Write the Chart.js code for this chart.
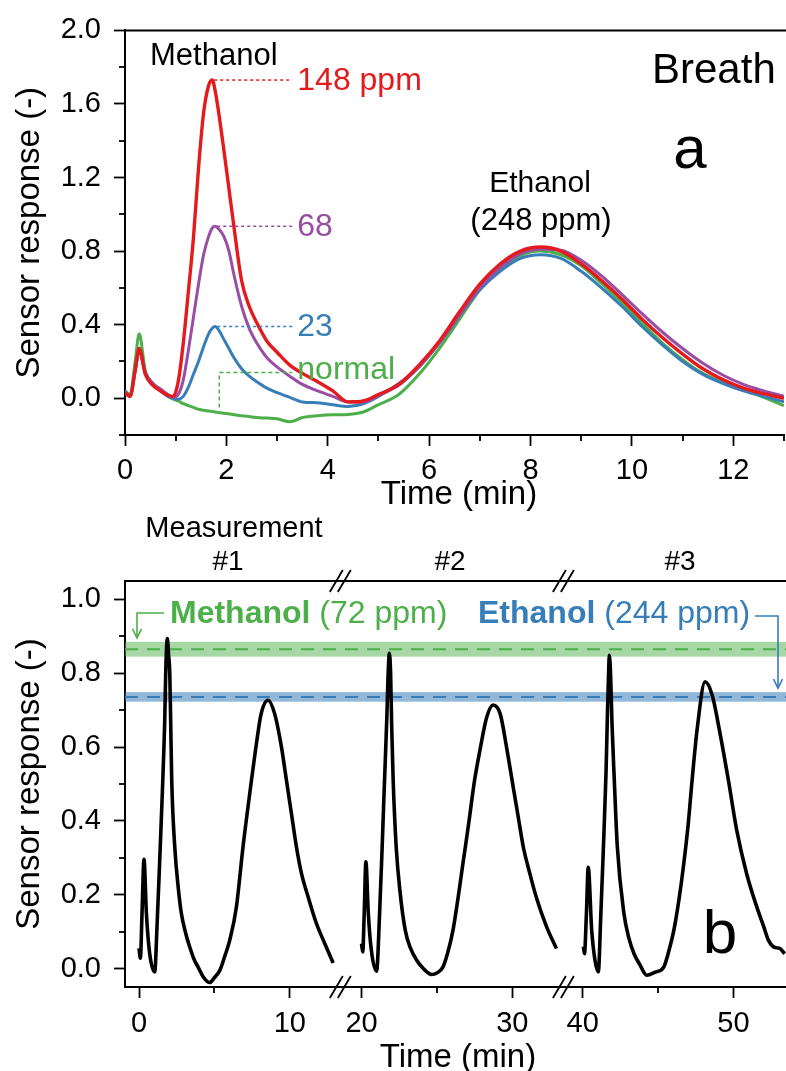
<!DOCTYPE html>
<html>
<head>
<meta charset="utf-8">
<title>Sensor response – breath</title>
<script src="https://cdn.jsdelivr.net/npm/chart.js@4.4.1/dist/chart.umd.min.js"></script>
<style>
  html, body { margin: 0; padding: 0; background: #fff; overflow: hidden; }
  canvas { position: absolute; left: 0; top: 0; }
</style>
</head>
<body>
<canvas id="breath" width="786" height="1071"></canvas>
<canvas id="repeat" width="786" height="1071"></canvas>
<script>
// ---------- panel a: breath with spiked methanol ----------
const timeA = [0, 0.1, 0.2, 0.28, 0.4, 0.55, 0.7, 0.85, 0.95,
  1.05, 1.15, 1.25, 1.35, 1.45, 1.55, 1.65, 1.72, 1.78, 1.85, 1.95,
  2.05, 2.15, 2.3, 2.45, 2.6, 2.8, 3.0, 3.25, 3.5, 3.8,
  4.1, 4.4, 4.7, 5.0, 5.4, 5.8, 6.2, 6.6, 7.0, 7.4,
  7.8, 8.2, 8.6, 9.0, 9.4, 9.8, 10.2, 10.6, 11.0, 11.4,
  11.8, 12.2, 12.6, 13.0];

const ppm148 = [0.03, 0.01, 0.15, 0.27, 0.13, 0.07, 0.04, 0.015, 0.01,
  0.09, 0.30, 0.58, 0.87, 1.25, 1.55, 1.70, 1.73, 1.67, 1.55, 1.35,
  1.14, 0.93, 0.64, 0.50, 0.41, 0.31, 0.25, 0.18, 0.135, 0.09,
  0.04, -0.02, -0.015, 0.02, 0.075, 0.18, 0.31, 0.47, 0.62, 0.73,
  0.80, 0.822, 0.80, 0.73, 0.64, 0.54, 0.43, 0.33, 0.24, 0.16,
  0.10, 0.055, 0.025, 0.0];

const ppm68 = [0.03, 0.01, 0.15, 0.26, 0.14, 0.08, 0.05, 0.02, 0.005,
  0.02, 0.10, 0.26, 0.44, 0.62, 0.78, 0.88, 0.925, 0.935, 0.92, 0.88,
  0.80, 0.67, 0.50, 0.38, 0.30, 0.22, 0.17, 0.12, 0.075, 0.04,
  0.01, -0.02, -0.02, 0.015, 0.07, 0.17, 0.30, 0.45, 0.60, 0.71,
  0.785, 0.81, 0.805, 0.75, 0.665, 0.565, 0.46, 0.36, 0.27, 0.19,
  0.125, 0.075, 0.04, 0.01];

const ppm23 = [0.04, 0.01, 0.15, 0.26, 0.14, 0.08, 0.04, 0.01, 0.0,
  -0.005, 0.01, 0.06, 0.13, 0.20, 0.28, 0.35, 0.38, 0.39, 0.37, 0.32,
  0.27, 0.22, 0.16, 0.12, 0.09, 0.055, 0.03, 0.005, -0.02, -0.025,
  -0.035, -0.045, -0.03, 0.01, 0.08, 0.17, 0.30, 0.45, 0.59, 0.69,
  0.76, 0.78, 0.76, 0.69, 0.60, 0.50, 0.39, 0.29, 0.20, 0.13,
  0.08, 0.04, 0.01, -0.02];

const normal = [0.04, 0.02, 0.20, 0.35, 0.15, 0.08, 0.04, 0.01, -0.005,
  -0.015, -0.03, -0.04, -0.05, -0.06, -0.065, -0.07, -0.072, -0.075, -0.078, -0.082,
  -0.085, -0.09, -0.095, -0.10, -0.105, -0.108, -0.112, -0.128, -0.105, -0.095,
  -0.09, -0.088, -0.075, -0.035, 0.02, 0.13, 0.27, 0.43, 0.59, 0.70,
  0.775, 0.80, 0.78, 0.72, 0.625, 0.52, 0.41, 0.30, 0.21, 0.135,
  0.085, 0.045, 0.005, -0.04];

const xTicksA = [0, 2, 4, 6, 8, 10, 12];
const xMinorA = [1, 3, 5, 7, 9, 11, 13];
const yTicksA = [0, 0.4, 0.8, 1.2, 1.6, 2.0];
const yMinorA = [-0.2, 0.2, 0.6, 1.0, 1.4, 1.8];

// ---------- panel b: three repeated measurements ----------
const meas1T = [0, 0.09, 0.2, 0.33, 0.49, 0.71, 1.04, 1.2, 1.37, 1.55,
  1.71, 1.77, 1.88, 1.96, 2.04, 2.1, 2.17, 2.37, 2.6, 2.81,
  3.1, 3.36, 3.65, 3.92, 4.3, 4.69, 5.0, 5.36, 5.7, 6.02,
  6.46, 6.9, 7.46, 7.79, 8.1, 8.56, 9.0, 9.45, 9.78, 10.11,
  10.44, 10.78, 11.22, 11.77, 12.32, 12.88];
const meas1R = [0.055, 0.028, 0.15, 0.296, 0.149, 0.04, -0.009, 0.12, 0.29, 0.48,
  0.68, 0.80, 0.894, 0.85, 0.80, 0.67, 0.51, 0.33, 0.22, 0.149,
  0.095, 0.059, 0.025, 0.004, -0.025, -0.038, -0.025, -0.005, 0.035, 0.077,
  0.167, 0.33, 0.51, 0.61, 0.69, 0.727, 0.69, 0.60, 0.51, 0.42,
  0.33, 0.257, 0.194, 0.122, 0.068, 0.015];

const meas2T = [20.0, 20.08, 20.18, 20.29, 20.45, 20.65, 21.0, 21.2, 21.37, 21.5,
  21.68, 21.75, 21.85, 21.93, 22.0, 22.1, 22.3, 22.55, 22.9, 23.25,
  23.65, 24.1, 24.65, 25.0, 25.4, 25.7, 26.07, 26.4, 26.73, 27.1,
  27.5, 27.85, 28.3, 28.73, 29.2, 29.62, 30.07, 30.4, 30.73, 31.15,
  31.62, 32.28, 32.93];
const meas2R = [0.068, 0.045, 0.15, 0.289, 0.15, 0.05, -0.007, 0.15, 0.33, 0.48,
  0.68, 0.78, 0.854, 0.80, 0.66, 0.51, 0.33, 0.21, 0.104, 0.055,
  0.023, 0.0, -0.016, -0.012, 0.004, 0.04, 0.104, 0.19, 0.285, 0.39,
  0.51, 0.59, 0.68, 0.714, 0.69, 0.60, 0.49, 0.41, 0.33, 0.26,
  0.19, 0.113, 0.054];

const meas3T = [40.05, 40.12, 40.25, 40.37, 40.6, 40.82, 41.04, 41.2, 41.37, 41.55,
  41.65, 41.72, 41.77, 41.85, 41.95, 42.1, 42.3, 42.74, 43.05, 43.41,
  43.8, 44.25, 44.8, 45.38, 45.7, 46.05, 46.4, 46.71, 47.0, 47.26,
  47.6, 48.12, 48.6, 49.1, 49.67, 50.22, 50.88, 51.55, 52.0, 52.32,
  52.65, 52.9, 53.1, 53.4];
const meas3R = [0.06, 0.04, 0.15, 0.274, 0.104, 0.022, -0.009, 0.14, 0.32, 0.53,
  0.70, 0.80, 0.849, 0.80, 0.66, 0.51, 0.33, 0.149, 0.085, 0.04,
  0.01, -0.018, -0.01, 0.004, 0.045, 0.104, 0.19, 0.285, 0.39, 0.51,
  0.65, 0.777, 0.74, 0.64, 0.51, 0.375, 0.257, 0.167, 0.115, 0.077,
  0.059, 0.056, 0.054, 0.04];

// calibration levels (mean and spread) for the two reference gases
const methanolLevel = 0.865, methanolSpread = 0.02;
const ethanolLevel = 0.736, ethanolSpread = 0.013;

const yTicksB = [0, 0.2, 0.4, 0.6, 0.8, 1.0];
const yMinorB = [0.1, 0.3, 0.5, 0.7, 0.9];

const FONT = "'Liberation Sans', Arial, sans-serif";
const RED = '#e41a1c', PURPLE = '#984ea3', BLUE = '#377eb8', GREEN = '#4daf4a';

Chart.defaults.font.family = FONT;
Chart.defaults.color = '#000';

function write(ctx, str, x, y, size, o = {}) {
  ctx.save();
  ctx.font = (o.bold ? 'bold ' : '') + size + 'px ' + FONT;
  ctx.fillStyle = o.color || '#000';
  ctx.textAlign = o.align || 'left';
  ctx.textBaseline = o.baseline || 'alphabetic';
  ctx.translate(x, y);
  if (o.rotate) ctx.rotate(o.rotate);
  ctx.fillText(str, 0, 0);
  const w = ctx.measureText(str).width;
  ctx.restore();
  return w;
}

function stroke(ctx, pts, color, width, dash) {
  ctx.save();
  ctx.strokeStyle = color;
  ctx.lineWidth = width;
  ctx.setLineDash(dash || []);
  ctx.beginPath();
  pts.forEach((p, i) => i ? ctx.lineTo(p[0], p[1]) : ctx.moveTo(p[0], p[1]));
  ctx.stroke();
  ctx.restore();
}

function arrowHead(ctx, x, y, color) {
  stroke(ctx, [[x - 4.5, y - 9], [x, y], [x + 4.5, y - 9]], color, 1.6);
}

// short minor tick marks on the outside of each axis
function minorTicks(marks) {
  return {
    id: 'minorTicks',
    afterDraw(chart) {
      const ctx = chart.ctx;
      ctx.save();
      ctx.strokeStyle = '#000';
      ctx.lineWidth = 1.8;
      for (const id in marks) {
        const s = chart.scales[id];
        marks[id].forEach(v => {
          const p = Math.round(s.getPixelForValue(v));
          ctx.beginPath();
          if (s.isHorizontal()) { ctx.moveTo(p, s.top); ctx.lineTo(p, s.top + 6); }
          else { ctx.moveTo(s.right, p); ctx.lineTo(s.right - 6, p); }
          ctx.stroke();
        });
      }
      ctx.restore();
    }
  };
}

function axisOpts(extra) {
  return Object.assign({
    type: 'linear',
    border: { display: true, color: '#000', width: 2 },
    grid: { display: true, drawOnChartArea: false, drawTicks: true, tickLength: 11, tickWidth: 1.8, tickColor: '#000' },
  }, extra);
}

// ---------------- chart a ----------------
const seriesA = [
  { label: '148 ppm', values: ppm148, color: RED, width: 3.4 },
  { label: '68', values: ppm68, color: PURPLE, width: 3 },
  { label: '23', values: ppm23, color: BLUE, width: 3 },
  { label: 'normal', values: normal, color: GREEN, width: 3 }
];

const panelA = {
  id: 'panelA',
  afterDatasetsDraw(chart) {
    const ctx = chart.ctx, xs = chart.scales.x, ys = chart.scales.y, area = chart.chartArea;
    stroke(ctx, [[area.left, area.top], [786, area.top]], '#000', 2);

    // leader lines from each methanol peak to its label
    const labelT = 3.3;
    seriesA.slice(0, 3).forEach(s => {
      let k = 0;
      for (let i = 0; i < 26; i++) if (s.values[i] > s.values[k]) k = i;
      const y = ys.getPixelForValue(s.values[k]);
      stroke(ctx, [[xs.getPixelForValue(timeA[k]) + 2, y], [xs.getPixelForValue(labelT), y]], s.color, 1.5, [3, 3]);
      write(ctx, s.label, xs.getPixelForValue(labelT) + 5, y + 1, 32, { color: s.color, baseline: 'middle' });
    });
    const yN = ys.getPixelForValue(0.14), xN = xs.getPixelForValue(1.86);
    stroke(ctx, [[xN, ys.getPixelForValue(-0.05)], [xN, yN], [xs.getPixelForValue(labelT), yN]], GREEN, 1.5, [4, 3]);
    write(ctx, 'normal', xs.getPixelForValue(labelT) + 5, yN - 2, 32, { color: GREEN, baseline: 'middle' });

    write(ctx, 'Methanol', 150, 65, 31);
    write(ctx, 'Breath', 652, 83, 42);
    write(ctx, 'a', 690, 168, 60, { align: 'center' });
    write(ctx, 'Ethanol', 540, 192, 30, { align: 'center' });
    write(ctx, '(248 ppm)', 541, 230, 31, { align: 'center' });

    write(ctx, 'Sensor response (-)', 39, (area.top + area.bottom) / 2, 33, { align: 'center', rotate: -Math.PI / 2 });
    write(ctx, 'Time (min)', 459, 504, 33, { align: 'center' });
  }
};

new Chart(document.getElementById('breath'), {
  type: 'line',
  data: {
    datasets: seriesA.map(s => ({
      label: s.label,
      data: timeA.map((t, i) => ({ x: t, y: s.values[i] })),
      borderColor: s.color,
      borderWidth: s.width,
      pointRadius: 0,
      cubicInterpolationMode: 'monotone',
      fill: false
    }))
  },
  options: {
    responsive: false,
    animation: false,
    layout: { padding: { top: 30, left: 0, right: 2, bottom: 1071 - 435 - 56 } },
    plugins: { legend: { display: false }, tooltip: { enabled: false } },
    scales: {
      x: axisOpts({
        min: 0, max: 13,
        afterBuildTicks: s => { s.ticks = xTicksA.map(v => ({ value: v })); },
        afterFit: s => { s.height = 56; },
        ticks: { font: { size: 29 }, padding: 8, maxRotation: 0, autoSkip: false, callback: v => String(v) }
      }),
      y: axisOpts({
        min: -0.2, max: 2.0,
        afterBuildTicks: s => { s.ticks = yTicksA.map(v => ({ value: v })); },
        afterFit: s => { s.width = 125; },
        ticks: { font: { size: 29 }, padding: 13, autoSkip: false, callback: v => v.toFixed(1) }
      })
    }
  },
  plugins: [minorTicks({ x: xMinorA, y: yMinorA }), panelA]
});

// ---------------- chart b ----------------
// broken time axis: one stacked x scale per measurement
const segments = [
  { id: 'x1', min: -0.93, max: 13.32, ticks: [0, 10], minor: [5], t: meas1T, r: meas1R },
  { id: 'x2', min: 18.56, max: 33.36, ticks: [20, 30], minor: [25], t: meas2T, r: meas2R },
  { id: 'x3', min: 38.69, max: 53.49, ticks: [40, 50], minor: [45], t: meas3T, r: meas3R }
];

const scalesB = {
  y: axisOpts({
    min: -0.05, max: 1.05,
    afterBuildTicks: s => { s.ticks = yTicksB.map(v => ({ value: v })); },
    afterFit: s => { s.width = 125; },
    ticks: { font: { size: 29 }, padding: 13, autoSkip: false, callback: v => v.toFixed(1) }
  })
};
const minorB = { y: yMinorB };
segments.forEach(seg => {
  scalesB[seg.id] = axisOpts({
    position: 'bottom',
    stack: 'time',
    stackWeight: seg.max - seg.min,
    min: seg.min, max: seg.max,
    afterBuildTicks: s => { s.ticks = seg.ticks.map(v => ({ value: v })); },
    afterFit: s => { s.height = 56; },
    ticks: { font: { size: 29 }, padding: 9, maxRotation: 0, autoSkip: false, callback: v => String(v) }
  });
  minorB[seg.id] = seg.minor;
});

const panelB = {
  id: 'panelB',
  beforeDatasetsDraw(chart) {
    const ctx = chart.ctx, ys = chart.scales.y, area = chart.chartArea;
    [[methanolLevel, methanolSpread, 'rgba(77,175,74,0.5)', GREEN],
     [ethanolLevel, ethanolSpread, 'rgba(55,126,184,0.55)', BLUE]].forEach(([lvl, sd, fill, col]) => {
      const top = ys.getPixelForValue(lvl + sd), bot = ys.getPixelForValue(lvl - sd);
      ctx.save();
      ctx.fillStyle = fill;
      ctx.fillRect(area.left, top, area.right - area.left, bot - top);
      ctx.restore();
      const y = ys.getPixelForValue(lvl);
      stroke(ctx, [[area.left, y], [area.right, y]], col, 2, [13, 9]);
    });
  },
  afterDatasetsDraw(chart) {
    const ctx = chart.ctx, ys = chart.scales.y, area = chart.chartArea;
    stroke(ctx, [[area.left, area.top], [786, area.top]], '#000', 2);

    // break marks on the top and bottom axes
    [chart.scales.x1.right, chart.scales.x2.right].forEach(bx => {
      [area.top, area.bottom].forEach(y => {
        stroke(ctx, [[bx - 10, y + 11], [bx + 3, y - 11]], '#000', 1.8);
        stroke(ctx, [[bx - 2, y + 11], [bx + 11, y - 11]], '#000', 1.8);
      });
    });

    write(ctx, 'Measurement', 234, 537, 29, { align: 'center' });
    write(ctx, '#1', 228, 570, 28, { align: 'center' });
    write(ctx, '#2', 450, 570, 28, { align: 'center' });
    write(ctx, '#3', 680, 570, 28, { align: 'center' });

    // reference labels with arrows pointing at the bands
    const mx = 170, tyM = 623;
    const wm = write(ctx, 'Methanol', mx, tyM, 32, { bold: true, color: GREEN });
    write(ctx, ' (72 ppm)', mx + wm, tyM, 32, { color: GREEN });
    const ax = area.left + 12, tipM = ys.getPixelForValue(methanolLevel + methanolSpread) - 4;
    stroke(ctx, [[mx - 6, tyM - 10], [ax, tyM - 10], [ax, tipM]], GREEN, 1.6);
    arrowHead(ctx, ax, tipM, GREEN);

    const ex = 478;
    const we = write(ctx, 'Ethanol', ex, tyM, 32, { bold: true, color: BLUE });
    const wp = write(ctx, ' (244 ppm)', ex + we, tyM, 32, { color: BLUE });
    const bx = area.right - 8, tipE = ys.getPixelForValue(ethanolLevel + ethanolSpread) - 4;
    stroke(ctx, [[ex + we + wp + 5, tyM - 7], [bx, tyM - 7], [bx, tipE]], BLUE, 1.6);
    arrowHead(ctx, bx, tipE, BLUE);

    write(ctx, 'b', 720, 953, 62, { align: 'center' });
    write(ctx, 'Sensor response (-)', 39, (area.top + area.bottom) / 2, 33, { align: 'center', rotate: -Math.PI / 2 });
    write(ctx, 'Time (min)', 458, 1067, 33, { align: 'center' });
  }
};

new Chart(document.getElementById('repeat'), {
  type: 'line',
  data: {
    datasets: segments.map(seg => ({
      label: seg.id,
      xAxisID: seg.id,
      yAxisID: 'y',
      data: seg.t.map((t, i) => ({ x: t, y: seg.r[i] })),
      borderColor: '#000',
      borderWidth: 3.6,
      pointRadius: 0,
      cubicInterpolationMode: 'monotone',
      fill: false
    }))
  },
  options: {
    responsive: false,
    animation: false,
    layout: { padding: { top: 581, left: 0, right: 0, bottom: 1071 - 987 - 56 } },
    plugins: { legend: { display: false }, tooltip: { enabled: false } },
    scales: scalesB
  },
  plugins: [minorTicks(minorB), panelB]
});
</script>
</body>
</html>
